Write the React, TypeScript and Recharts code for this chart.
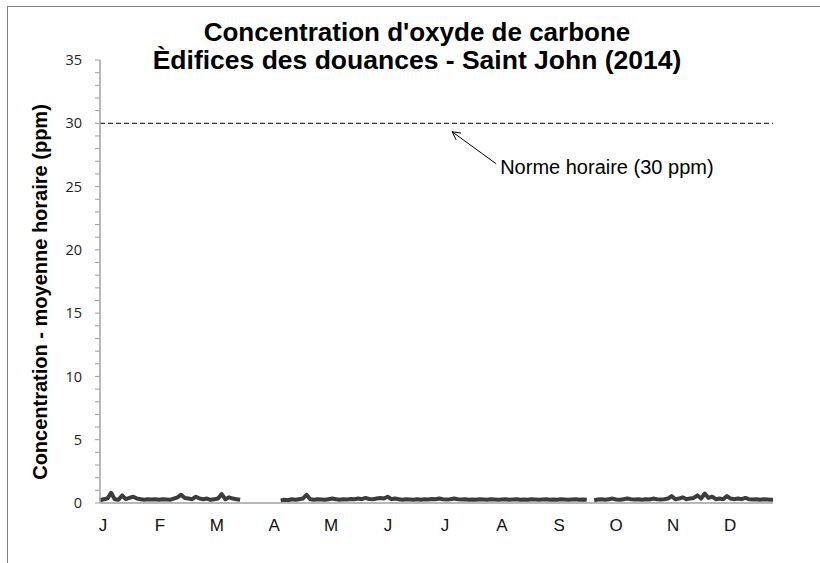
import React from 'react';
import { LineChart, Line, XAxis, YAxis, ReferenceLine, ReferenceDot } from 'recharts';

// Month labels along the time axis (positions in days since Jan 1)
const monthLabels = ['J', 'F', 'M', 'A', 'M', 'J', 'J', 'A', 'S', 'O', 'N', 'D'];
const monthTickDays = [1.6, 32.5, 63.4, 94.4, 125.3, 156.2, 187.1, 218.0, 249.0, 279.9, 310.8, 341.7];

// Y axis ticks (ppm)
const yTicks = [0, 1, 2, 3, 4, 5, 6, 7, 8, 9, 10, 11, 12, 13, 14, 15, 16, 17, 18, 19, 20, 21, 22, 23, 24, 25, 26, 27, 28, 29, 30, 31, 32, 33, 34, 35];

const hourlyStandard = 30;
const standardLabel = 'Norme horaire (30 ppm)';
const annotationDay = 191;

// CO readings (ppm), sampled every 2 days, three segments separated by data gaps
const seg1Start = 0;
const seg1Values = [
  0.22, 0.3, 0.35, 0.8, 0.3, 0.25, 0.6, 0.3, 0.4, 0.5, 0.35, 0.3, 0.25, 0.3, 0.28, 0.3, 0.25, 0.3, 0.28, 0.25,
  0.35, 0.45, 0.65, 0.4, 0.35, 0.3, 0.5, 0.35, 0.3, 0.35, 0.25, 0.3, 0.35, 0.7, 0.3, 0.45, 0.35, 0.3, 0.25,
];
const gap1Day = 87;
const seg2Start = 98;
const seg2Values = [
  0.2, 0.25, 0.22, 0.3, 0.25, 0.3, 0.35, 0.65, 0.3, 0.25, 0.3, 0.28, 0.25, 0.3, 0.35, 0.3, 0.25, 0.3, 0.28, 0.32,
  0.3, 0.35, 0.3, 0.4, 0.32, 0.3, 0.35, 0.4, 0.35, 0.5, 0.3, 0.35, 0.3, 0.25, 0.3, 0.28, 0.25, 0.3, 0.25, 0.3,
  0.28, 0.32, 0.3, 0.35, 0.3, 0.28, 0.3, 0.35, 0.3, 0.28, 0.3, 0.25, 0.28, 0.25, 0.3, 0.28, 0.25, 0.3, 0.28, 0.25,
  0.28, 0.3, 0.25, 0.28, 0.3, 0.25, 0.28, 0.25, 0.3, 0.28, 0.25, 0.28, 0.3, 0.25, 0.28, 0.25, 0.3, 0.28, 0.25, 0.28,
  0.3, 0.25, 0.28, 0.25,
];
const gap2Day = 266;
const seg3Start = 268;
const seg3Values = [
  0.22, 0.28, 0.3, 0.25, 0.3, 0.35, 0.28, 0.25, 0.3, 0.35, 0.3, 0.28, 0.3, 0.25, 0.3, 0.28, 0.35, 0.3, 0.28, 0.3,
  0.35, 0.55, 0.3, 0.35, 0.45, 0.3, 0.35, 0.4, 0.6, 0.35, 0.75, 0.4, 0.5, 0.3, 0.35, 0.3, 0.55, 0.35, 0.3, 0.35,
  0.3, 0.4, 0.3, 0.28, 0.3, 0.25, 0.3, 0.28, 0.25, 0.26,
];

const STEP = 2;
const data: { day: number; v: number | null }[] = [];
seg1Values.forEach((v, i) => data.push({ day: seg1Start + i * STEP, v }));
data.push({ day: gap1Day, v: null });
seg2Values.forEach((v, i) => data.push({ day: seg2Start + i * STEP, v }));
data.push({ day: gap2Day, v: null });
seg3Values.forEach((v, i) => data.push({ day: Math.min(seg3Start + i * STEP, 365), v }));

const W = 820;
const H = 563;

const AnnotationShape = (props: any) => {
  const { cx, cy } = props;
  const tipX = cx;
  const tipY = cy + 8.5;
  const tailX = cx + 44;
  const tailY = cy + 40.5;
  const dx = tipX - tailX;
  const dy = tipY - tailY;
  const len = Math.sqrt(dx * dx + dy * dy);
  const ux = dx / len;
  const uy = dy / len;
  const a = (28 * Math.PI) / 180;
  const L = 9;
  const r1x = ux * Math.cos(a) - uy * Math.sin(a);
  const r1y = ux * Math.sin(a) + uy * Math.cos(a);
  const r2x = ux * Math.cos(-a) - uy * Math.sin(-a);
  const r2y = ux * Math.sin(-a) + uy * Math.cos(-a);
  return (
    <g>
      <line x1={tailX} y1={tailY} x2={tipX} y2={tipY} stroke="#000" strokeWidth={1} />
      <line x1={tipX} y1={tipY} x2={tipX - L * r1x} y2={tipY - L * r1y} stroke="#000" strokeWidth={1} />
      <line x1={tipX} y1={tipY} x2={tipX - L * r2x} y2={tipY - L * r2y} stroke="#000" strokeWidth={1} />
      <text
        x={cx + 48}
        y={cy + 51}
        fontFamily="'Liberation Sans', Arial, sans-serif"
        fontSize={20}
        fill="#000"
      >
        {standardLabel}
      </text>
    </g>
  );
};

export default function App() {
  return (
    <div
      style={{
        position: 'absolute',
        left: 0,
        top: 0,
        width: W,
        height: H,
        overflow: 'hidden',
        background: '#fff',
      }}
    >
      <div
        style={{
          position: 'absolute',
          left: 7,
          top: 6,
          width: 1000,
          height: 1000,
          borderLeft: '1.5px solid #7f7f7f',
          borderTop: '1.5px solid #7f7f7f',
        }}
      />
      <div style={{ position: 'absolute', left: 0, top: 0 }}>
        <LineChart
          width={W}
          height={H}
          data={data}
          margin={{ top: 60, right: 47, bottom: 0, left: 0 }}
        >
          <XAxis
            dataKey="day"
            type="number"
            domain={[0, 365]}
            ticks={monthTickDays}
            interval={0}
            tickFormatter={(_v: number, i: number) => monthLabels[i]}
            tickLine={false}
            tickSize={6}
            tickMargin={10}
            height={60}
            axisLine={{ stroke: '#a0a0a0', strokeWidth: 1.5 }}
            tick={{ fontFamily: "'Liberation Sans', Arial, sans-serif", fontSize: 17, fill: '#111' }}
          />
          <YAxis
            type="number"
            domain={[0, 35]}
            ticks={yTicks}
            interval={0}
            width={100}
            tickSize={5}
            tickMargin={13}
            tickFormatter={(v: number) => (v % 5 === 0 ? String(v) : '')}
            axisLine={{ stroke: '#a0a0a0', strokeWidth: 1.5 }}
            tickLine={{ stroke: '#a0a0a0', strokeWidth: 1 }}
            tick={{ fontFamily: "'Open Sans', sans-serif", fontSize: 14.5, fill: '#222' }}
          />
          <ReferenceLine
            y={hourlyStandard}
            stroke="#000"
            strokeWidth={1}
            strokeDasharray="5 3"
          />
          <ReferenceDot
            x={annotationDay}
            y={hourlyStandard}
            r={0}
            shape={AnnotationShape}
            ifOverflow="visible"
          />
          <Line
            type="linear"
            dataKey="v"
            stroke="#3c3c3c"
            strokeWidth={4}
            strokeLinejoin="round"
            dot={false}
            connectNulls={false}
            isAnimationActive={false}
          />
        </LineChart>
      </div>
      <svg
        width={W}
        height={H}
        style={{ position: 'absolute', left: 0, top: 0, pointerEvents: 'none' }}
      >
        <text
          x={417}
          y={41}
          textAnchor="middle"
          fontFamily="'Liberation Sans', Arial, sans-serif"
          fontWeight="bold"
          fontSize={26}
          fill="#000"
        >
          Concentration d'oxyde de carbone
        </text>
        <text
          x={417}
          y={68.5}
          textAnchor="middle"
          fontFamily="'Liberation Sans', Arial, sans-serif"
          fontWeight="bold"
          fontSize={26.5}
          fill="#000"
        >
          Èdifices des douances - Saint John (2014)
        </text>
        <text
          x={47}
          y={292}
          textAnchor="middle"
          transform="rotate(-90 47 292)"
          fontFamily="'Liberation Sans', Arial, sans-serif"
          fontWeight="bold"
          fontSize={20}
          fill="#000"
        >
          Concentration - moyenne horaire (ppm)
        </text>
      </svg>
    </div>
  );
}
